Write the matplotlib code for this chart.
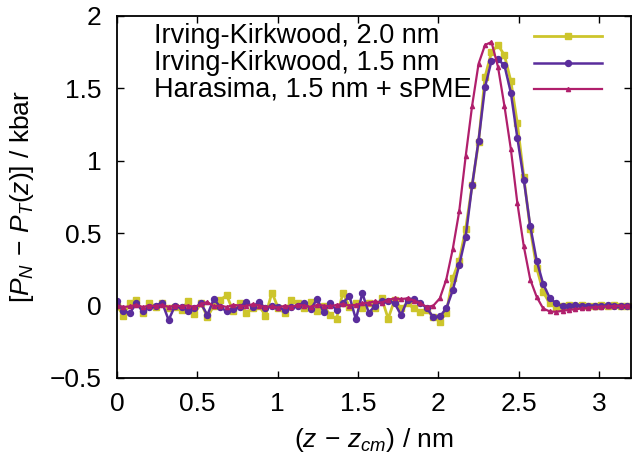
"""Normal minus tangential pressure profile across the interface."""

import matplotlib
matplotlib.use("Agg")
import matplotlib.pyplot as plt
import numpy as np

plt.rcParams["font.family"] = ["Liberation Sans", "DejaVu Sans"]
plt.rcParams["mathtext.fontset"] = "custom"
plt.rcParams["mathtext.rm"] = "Liberation Sans"
plt.rcParams["mathtext.it"] = "Liberation Sans:italic"
plt.rcParams["mathtext.sf"] = "Liberation Sans"

# bin centres along z (nm), uniform slab bins
z = np.round(np.arange(81) * 0.0402, 4)

# Irving-Kirkwood, 2.0 nm cut-off
ik_20 = [
    0.00, -0.07, 0.02, 0.04, -0.05, 0.02, -0.01, 0.015, -0.02, -0.01,
    -0.03, 0.03, -0.06, 0.02, -0.08, 0.00, 0.04, 0.07, -0.04, 0.02,
    -0.05, -0.02, 0.00, -0.07, 0.09, -0.02, -0.05, 0.04, 0.015, -0.02,
    0.025, -0.04, 0.00, -0.065, -0.09, 0.09, -0.01, 0.015, -0.02, 0.015,
    -0.02, 0.05, -0.09, 0.04, -0.02, 0.015, -0.02, -0.045, -0.03, -0.08,
    -0.11, -0.05, 0.19, 0.31, 0.53, 0.83, 1.13, 1.58, 1.75, 1.80,
    1.73, 1.55, 1.26, 0.89, 0.53, 0.26, 0.095, 0.015, -0.008, 0.00,
    0.003, -0.002, 0.002, 0.00, -0.003, 0.002, 0.00, 0.002, -0.002, 0.00,
    0.00,
]

# Irving-Kirkwood, 1.5 nm cut-off
ik_15 = [
    0.03, -0.04, -0.05, 0.015, -0.04, -0.01, 0.00, 0.02, -0.10, 0.00,
    -0.01, -0.035, -0.02, 0.015, -0.065, 0.045, -0.01, -0.04, -0.025, -0.01,
    0.025, -0.01, 0.025, -0.02, 0.00, -0.01, -0.03, -0.01, 0.00, 0.02,
    -0.025, 0.045, -0.045, 0.015, -0.03, 0.02, 0.065, -0.095, 0.085, -0.05,
    0.00, 0.035, 0.035, 0.015, -0.065, 0.04, 0.045, 0.02, -0.02, -0.08,
    -0.075, -0.02, 0.105, 0.28, 0.475, 0.83, 1.14, 1.51, 1.69, 1.70,
    1.66, 1.47, 1.16, 0.87, 0.55, 0.31, 0.15, 0.055, 0.015, -0.005,
    0.00, 0.002, 0.00, -0.002, 0.00, 0.00, 0.001, 0.00, 0.00, 0.00,
    0.00,
]

# Harasima, 1.5 nm + sPME
harasima = [
    0.00, -0.01, -0.005, 0.005, -0.01, 0.00, -0.005, 0.005, -0.01, 0.00,
    -0.005, 0.00, -0.01, 0.01, 0.025, -0.005, 0.00, -0.01, 0.005, 0.00,
    -0.005, 0.01, 0.00, -0.01, -0.005, -0.015, 0.00, -0.01, 0.005, 0.00,
    -0.01, 0.005, 0.00, -0.005, 0.005, 0.01, 0.00, 0.005, 0.015, 0.02,
    0.03, 0.02, 0.04, 0.05, 0.045, 0.05, 0.035, 0.015, -0.01, 0.00,
    0.05, 0.18, 0.39, 0.65, 1.03, 1.38, 1.67, 1.80, 1.82, 1.65,
    1.38, 1.08, 0.71, 0.41, 0.18, 0.06, -0.02, -0.04, -0.043, -0.036,
    -0.03, -0.025, -0.02, -0.015, -0.01, -0.007, -0.005, -0.003, -0.002, -0.001,
    0.00,
]

labels = [
    "Irving-Kirkwood, 2.0 nm",
    "Irving-Kirkwood, 1.5 nm",
    "Harasima, 1.5 nm + sPME",
]
colors = ["#cdc52c", "#5a2d9c", "#b01f6c"]
markers = ["s", "o", "^"]
sizes = [5.0, 4.3, 3.0]
widths = [2.0, 1.8, 1.6]
series = [ik_20, ik_15, harasima]

FS = 19

fig = plt.figure(figsize=(6.33, 4.53), dpi=100)
ax = fig.add_axes([0.1848, 0.1656, 0.8120, 0.7991])

for vals, col, mk, ms, lw in zip(series, colors, markers, sizes, widths):
    ax.plot(z, vals, color=col, lw=lw, marker=mk, ms=ms)

# gnuplot-style key: left-justified text, sample line on the right
key_rows = [0.946, 0.871, 0.797]
for lab, col, mk, ms, lw, yk in zip(labels, colors, markers, sizes, widths,
                                    key_rows):
    ax.text(0.072, yk, lab, transform=ax.transAxes, fontsize=FS + 0.5,
            ha="left", va="center")
    ax.plot([0.811, 0.877, 0.943], [yk, yk, yk], transform=ax.transAxes,
            color=col, lw=lw, marker=mk, ms=ms, markevery=[1],
            clip_on=False)

ax.set_xlim(0, 3.2)
ax.set_ylim(-0.5, 2)
ax.set_xticks([0, 0.5, 1, 1.5, 2, 2.5, 3])
ax.set_xticklabels(["0", "0.5", "1", "1.5", "2", "2.5", "3"])
ax.set_yticks([-0.5, 0, 0.5, 1, 1.5, 2])
ax.set_yticklabels(["\u22120.5", "0", "0.5", "1", "1.5", "2"])
ax.tick_params(direction="in", top=True, right=True, length=5, width=1,
               labelsize=FS, pad=10)
ax.tick_params(axis="y", pad=11)
for side in ax.spines.values():
    side.set_linewidth(1.3)

ax.set_xlabel(r"$(z\,-\,z_{cm})$ / nm", fontsize=FS, labelpad=7)
ax.set_ylabel(r"$[P_N\,-\,P_T(z)]$ / kbar", fontsize=FS, labelpad=10)

fig.savefig("out.png", dpi=100)
